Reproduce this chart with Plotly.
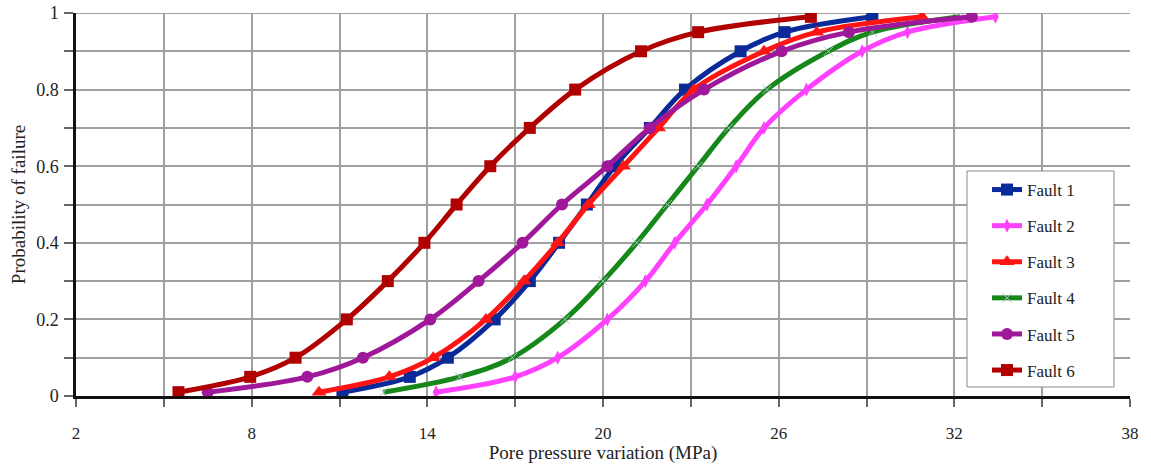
import plotly.graph_objects as go

# Probability levels (y) shared by the faults
p_levels = [0.01, 0.05, 0.1, 0.2, 0.3, 0.4, 0.5, 0.6, 0.7, 0.8, 0.9, 0.95, 0.99]

# Pore pressure variation (MPa) for each fault
fault1_x = [11.1, 13.4, 14.7, 16.3, 17.5, 18.5, 19.45, 20.4, 21.6, 22.8, 24.7, 26.2, 29.2]
fault2_x = [14.3, 17.0, 18.45, 20.15, 21.45, 22.45, 23.55, 24.55, 25.5, 26.95, 28.85, 30.4, 33.4]
fault3_x = [10.3, 12.7, 14.2, 16.0, 17.3, 18.45, 19.5, 20.7, 21.9, 23.1, 25.5, 27.3, 30.9]
fault4_x = [12.5, 15.1, 16.9, 18.7, 20.0, 21.15, 22.2, 23.25, 24.3, 25.6, 27.7, 29.2, 32.2]
fault5_x = [6.5, 9.9, 11.8, 14.1, 15.75, 17.25, 18.6, 20.15, 21.6, 23.45, 26.1, 28.4, 32.6]
fault6_x = [5.5, 7.95, 9.5, 11.25, 12.65, 13.9, 15.0, 16.15, 17.5, 19.05, 21.3, 23.25, 27.1]

names = ["Fault 1", "Fault 2", "Fault 3", "Fault 4", "Fault 5", "Fault 6"]
colors = ["#0a2a9a", "#ff40ff", "#ff1414", "#16881a", "#a0189a", "#b00000"]

x_ticks = list(range(2, 39, 3))
x_labels = [str(v) if (v - 2) % 6 == 0 else "" for v in x_ticks]
y_ticks = [i / 10 for i in range(11)]
y_labels = ["0", "", "0.2", "", "0.4", "", "0.6", "", "0.8", "", "1"]

series = [fault1_x, fault2_x, fault3_x, fault4_x, fault5_x, fault6_x]
markers = [
    dict(symbol="square", size=12),
    dict(symbol="diamond-tall", size=10),
    dict(symbol="triangle-up", size=13),
    dict(symbol="x-thin", size=9, line=dict(width=1, color="#b4bccc")),
    dict(symbol="circle", size=12),
    dict(symbol="square", size=12),
]

fig = go.Figure()
for i, (nm, xs, col, mk) in enumerate(zip(names, series, colors, markers)):
    m = dict(mk)
    m["color"] = col
    fig.add_trace(go.Scatter(
        x=xs, y=p_levels, name=nm, mode="lines+markers",
        line=dict(color=col, width=5, shape="spline"),
        marker=m, legendgroup=nm,
    ))

W, H = 1151, 464
ML, MR, MT, MB = 76, 21, 13, 68
PW, PH = W - ML - MR, H - MT - MB


def px_x(px):
    return (px - ML) / PW


def px_y(py):
    return (H - MB - py) / PH


font_family = "Liberation Serif, Times New Roman, serif"

# legend frame
fig.add_shape(type="rect", xref="paper", yref="paper",
              x0=px_x(967), x1=px_x(1114), y0=px_y(387), y1=px_y(171),
              line=dict(color="#888", width=1), fillcolor="white", layer="above")
# top grid line at y = 1
fig.add_shape(type="line", xref="paper", yref="y", x0=0, x1=1, y0=1, y1=1,
              line=dict(color="#a0a0a0", width=2), layer="below")

fig.update_layout(
    width=W, height=H,
    margin=dict(l=ML, r=MR, t=MT, b=MB),
    paper_bgcolor="white", plot_bgcolor="white",
    font=dict(family=font_family, size=18, color="#222"),
    showlegend=True,
    legend=dict(
        x=px_x(987), y=px_y(172), xanchor="left", yanchor="top",
        bgcolor="rgba(0,0,0,0)", borderwidth=0,
        font=dict(family=font_family, size=17, color="#222"),
        tracegroupgap=11, itemwidth=30,
    ),
    xaxis=dict(
        range=[2, 38], tickmode="array", tickvals=x_ticks, ticktext=x_labels,
        showgrid=True, gridcolor="#a0a0a0", gridwidth=2,
        showline=True, linecolor="#111", linewidth=2.5,
        ticks="outside", ticklen=8, tickwidth=2, tickcolor="#666",
        ticklabelstandoff=12, zeroline=False, automargin=False,
        ticklabeloverflow="allow",
        tickfont=dict(family=font_family, size=17),
        title=dict(text="Pore pressure variation (MPa)", standoff=4,
                   font=dict(family=font_family, size=19)),
    ),
    yaxis=dict(
        range=[0, 1], tickmode="array", tickvals=y_ticks, ticktext=y_labels,
        showgrid=True, gridcolor="#a0a0a0", gridwidth=2,
        showline=True, linecolor="#111", linewidth=2.5,
        ticks="outside", ticklen=9, tickwidth=2, tickcolor="#666",
        ticklabelstandoff=2, zeroline=False, automargin=False,
        ticklabeloverflow="allow",
        tickfont=dict(family=font_family, size=18),
        title=dict(text="Probability of failure", standoff=6,
                   font=dict(family=font_family, size=19)),
    ),
)

# remove the default 8px page margin so the figure fills the window exactly
fig.write_html("out.html", config={"displayModeBar": False},
               post_script="document.body.style.margin='0px';")
